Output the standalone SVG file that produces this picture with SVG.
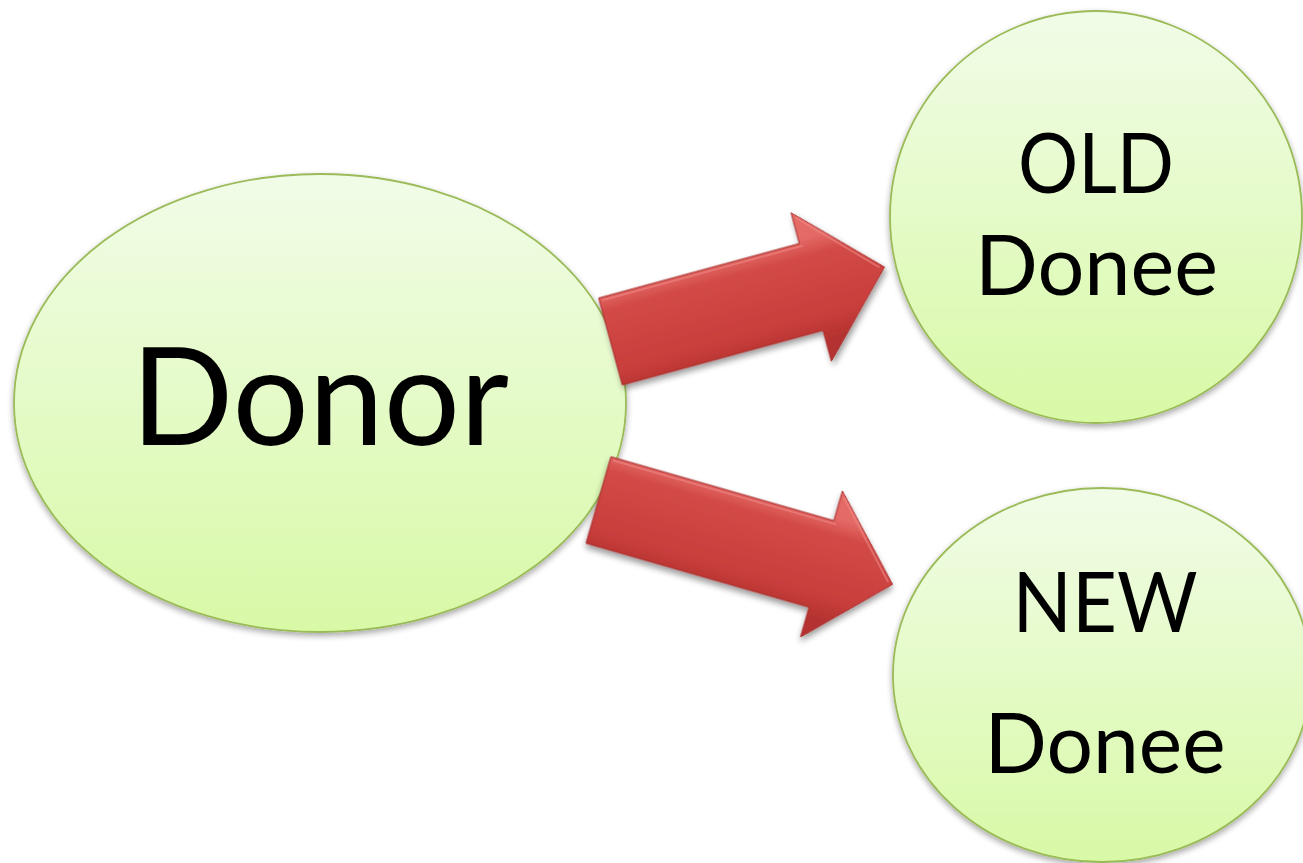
<svg xmlns="http://www.w3.org/2000/svg" width="1303" height="863" viewBox="0 0 1303 863">
  <style>
    .node { stroke: #9bbb59; stroke-width: 1.8; fill: url(#greenGrad); filter: url(#softShadow); }
    .label { font-family: Lato, "Open Sans", "Liberation Sans", sans-serif; fill: #000000; text-anchor: middle; }
    .arrow { fill: url(#redGrad); stroke: #a52d2b; stroke-width: 1; filter: url(#arrowShadow); }
    .bevel { fill: none; stroke: #ee8a86; stroke-width: 2; opacity: 0.55; }
  </style>
  <defs>
    <linearGradient id="greenGrad" x1="0" y1="0" x2="0" y2="1">
      <stop offset="0" stop-color="#f1fce8"/>
      <stop offset="1" stop-color="#d8f9a6"/>
    </linearGradient>
    <linearGradient id="redGrad" x1="0" y1="0" x2="0" y2="1">
      <stop offset="0.18" stop-color="#e46a66"/>
      <stop offset="0.3" stop-color="#d24a47"/>
      <stop offset="0.7" stop-color="#c83e3c"/>
      <stop offset="0.85" stop-color="#b53330"/>
    </linearGradient>
    <filter id="softShadow" x="-10%" y="-10%" width="120%" height="125%">
      <feGaussianBlur in="SourceAlpha" stdDeviation="3"/>
      <feOffset dx="0" dy="3" result="b"/>
      <feComponentTransfer><feFuncA type="linear" slope="0.35"/></feComponentTransfer>
      <feMerge><feMergeNode/><feMergeNode in="SourceGraphic"/></feMerge>
    </filter>
    <filter id="arrowShadow" x="-20%" y="-30%" width="140%" height="160%">
      <feGaussianBlur in="SourceAlpha" stdDeviation="3"/>
      <feOffset dx="1" dy="4" result="b"/>
      <feComponentTransfer><feFuncA type="linear" slope="0.4"/></feComponentTransfer>
      <feMerge><feMergeNode/><feMergeNode in="SourceGraphic"/></feMerge>
    </filter>
  </defs>

  <g id="node-donor">
    <ellipse class="node" cx="320" cy="403" rx="306" ry="229"/>
    <text class="label" x="320" y="445" font-size="136" textLength="378" lengthAdjust="spacingAndGlyphs">Donor</text>
  </g>

  <g id="node-old-donee">
    <circle class="node" cx="1096" cy="217" r="206"/>
    <text class="label" x="1096" y="193" font-size="84" textLength="156" lengthAdjust="spacingAndGlyphs">OLD</text>
    <text class="label" x="1096.5" y="295" font-size="84" textLength="243" lengthAdjust="spacingAndGlyphs">Donee</text>
  </g>

  <g id="node-new-donee">
    <ellipse class="node" cx="1102" cy="675" rx="209" ry="187"/>
    <text class="label" x="1105" y="632" font-size="84" textLength="185" lengthAdjust="spacingAndGlyphs">NEW</text>
    <text class="label" x="1105" y="773" font-size="84" textLength="241" lengthAdjust="spacingAndGlyphs">Donee</text>
  </g>

  <g id="connectors">
    <g id="arrow-old" transform="translate(610.5,341.5) rotate(-15.2)">
      <path class="arrow" d="M0,-45 L208,-45 L208,-77 L284,0 L208,77 L208,45 L0,45 Z"/>
      <path class="bevel" d="M3,-42 L211,-42 M211,-71 L279,-1"/>
    </g>
    <g id="arrow-new" transform="translate(598.5,500) rotate(16)">
      <path class="arrow" d="M0,-45 L232,-45 L232,-76 L306,0 L232,76 L232,45 L0,45 Z"/>
      <path class="bevel" d="M3,-42 L235,-42 M235,-70 L301,-1"/>
    </g>
  </g>
</svg>
